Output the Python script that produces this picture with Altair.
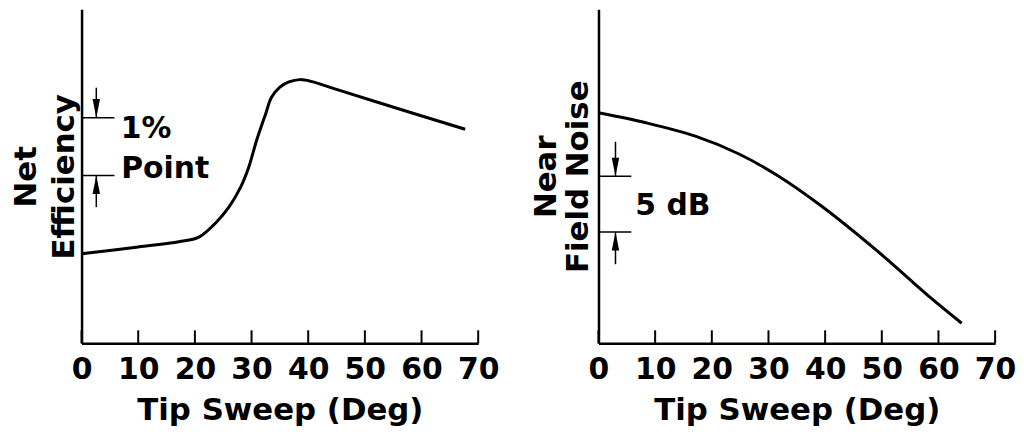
import altair as alt
import pandas as pd

FONT = "DejaVu Sans"
TICKS = [0, 10, 20, 30, 40, 50, 60, 70]

# Left panel: Net efficiency (percentage points, relative) vs tip sweep
eff_sweep = [0, 10, 17.2, 20.7, 23.7, 26.0, 28.1, 29.5, 30.9, 32.5, 33.5, 35.0, 36.6, 38.5, 40.5, 44.0, 52.8, 67.7]
eff_value = [1.55, 1.67, 1.76, 1.84, 2.09, 2.36, 2.71, 3.05, 3.52, 3.98, 4.26, 4.44, 4.53, 4.57, 4.54, 4.43, 4.16, 3.71]

# Right panel: near field noise (dB, relative) vs tip sweep
noise_sweep = [0, 8.4, 17.1, 24.8, 31.8, 39.4, 49.4, 58.8, 64.1]
noise_value = [20.7, 19.8, 18.6, 17.0, 15.0, 12.3, 8.2, 4.0, 1.8]

W = 399
H = 336


def panel(xs, ys, ymax, ytitle, line_h, title_pad, bar_lo, bar_hi, bar_len,
          arrow_x, arrow_top, arrow_bot, texts):
    x_enc = alt.X(
        "x:Q",
        scale=alt.Scale(domain=[0, 70], nice=False, zero=False),
        axis=alt.Axis(
            values=TICKS, ticks=False, tickSize=0, grid=False,
            domainWidth=2.5, domainColor="black",
            labelFont=FONT, labelFontSize=30, labelFontWeight="bold",
            labelColor="black", labelPadding=11, labelFlush=False,
            labelOverlap=False, format="d",
            title="Tip Sweep (Deg)", titleFont=FONT, titleFontSize=31,
            titleFontWeight="bold", titleColor="black", titlePadding=12,
        ),
    )
    y_enc = alt.Y(
        "y:Q",
        scale=alt.Scale(domain=[0, ymax], nice=False, zero=False),
        axis=alt.Axis(
            labels=False, ticks=False, tickSize=0, grid=False,
            domainWidth=2.5, domainColor="black",
            title=ytitle, titleFont=FONT, titleFontSize=31,
            titleFontWeight="bold", titleColor="black",
            titleLineHeight=line_h, titlePadding=title_pad,
        ),
    )
    curve = alt.Chart(pd.DataFrame({"x": xs, "y": ys})).mark_line(
        color="black", strokeWidth=3, interpolate="catmull-rom"
    ).encode(x=x_enc, y=y_enc)

    ticks = alt.Chart(pd.DataFrame({"x": TICKS})).mark_rule(
        color="black", strokeWidth=2
    ).encode(x=x_enc, y=alt.value(H), y2=alt.value(H - 13))

    bars = alt.Chart(pd.DataFrame({
        "x": [0, 0], "x2": [bar_len, bar_len], "y": [bar_hi, bar_lo]
    })).mark_rule(color="black", strokeWidth=1.5).encode(
        x=x_enc, x2="x2:Q", y=y_enc
    )

    arrows = alt.Chart(pd.DataFrame({
        "x": [arrow_x, arrow_x], "y": [arrow_top, bar_lo], "y2": [bar_hi, arrow_bot]
    })).mark_rule(color="black", strokeWidth=1.5).encode(
        x=x_enc, y=y_enc, y2="y2:Q"
    )

    head_dn = alt.Chart(pd.DataFrame({"x": [arrow_x], "y": [bar_hi]})).mark_point(
        shape="M-0.4,-2L0.4,-2L0,0Z", filled=True, size=350,
        color="black", opacity=1, strokeWidth=0
    ).encode(x=x_enc, y=y_enc)

    head_up = alt.Chart(pd.DataFrame({"x": [arrow_x], "y": [bar_lo]})).mark_point(
        shape="M-0.4,2L0.4,2L0,0Z", filled=True, size=350,
        color="black", opacity=1, strokeWidth=0
    ).encode(x=x_enc, y=y_enc)

    txt = alt.Chart(pd.DataFrame({
        "x": [t[0] for t in texts], "y": [t[1] for t in texts],
        "label": [t[2] for t in texts]
    })).mark_text(
        align="left", baseline="middle", font=FONT, fontSize=30,
        fontWeight="bold", color="black"
    ).encode(x=x_enc, y=y_enc, text="label:N")

    return alt.layer(curve, ticks, bars, arrows, head_dn, head_up, txt).properties(
        width=W, height=H
    )


left = panel(
    eff_sweep, eff_value, 5.79, ["Net", "Efficiency"], 38, 1,
    bar_lo=2.91, bar_hi=3.91, bar_len=5.8, arrow_x=2.6,
    arrow_top=4.43, arrow_bot=2.36,
    texts=[(6.9, 3.72, "1%"), (7.0, 3.02, "Point")],
)

right = panel(
    noise_sweep, noise_value, 30.0, ["Near", "Field Noise"], 32, 4,
    bar_lo=10.0, bar_hi=15.0, bar_len=5.8, arrow_x=3.0,
    arrow_top=18.1, arrow_bot=7.1,
    texts=[(6.5, 12.3, "5 dB")],
)

chart = alt.hconcat(left, right, spacing=32).properties(
    padding={"left": 3, "top": 0, "right": 0, "bottom": 0},
    background="white",
).configure_view(strokeWidth=0)

chart.save("out.html", embed_options={"renderer": "svg", "actions": False})
